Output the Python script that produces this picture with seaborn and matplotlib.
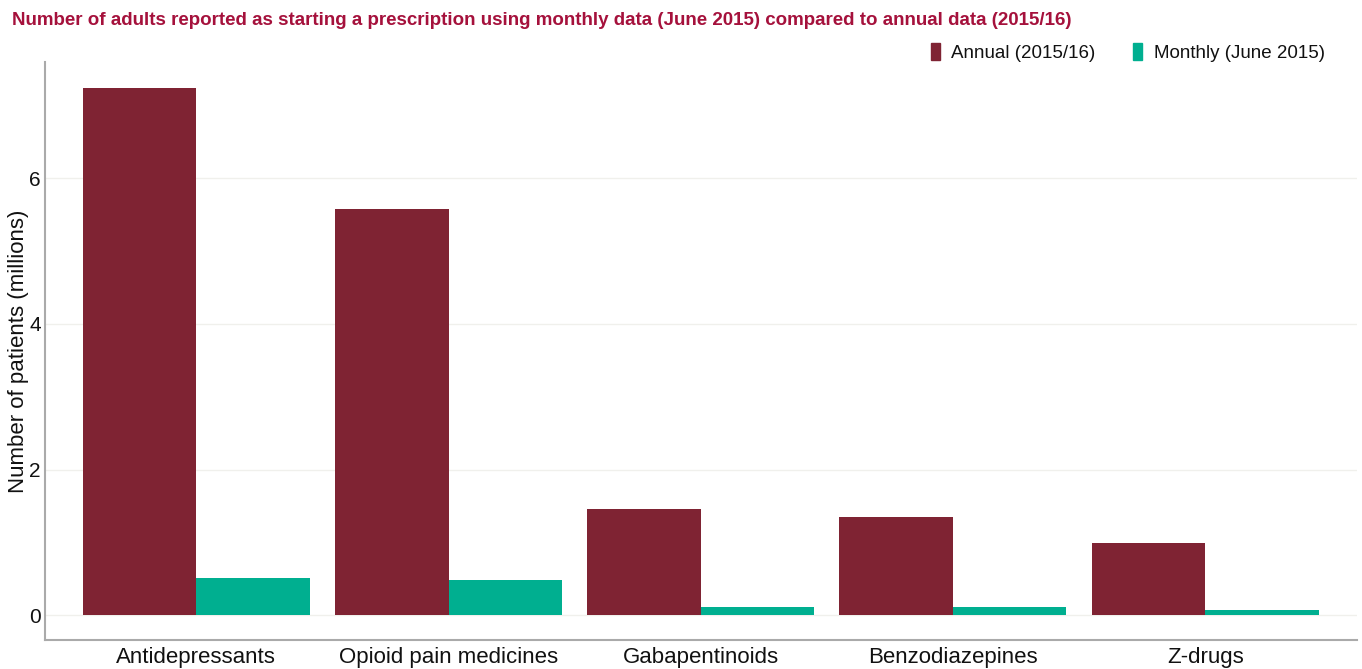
import pandas as pd
import matplotlib.pyplot as plt
from matplotlib.patches import Patch
import seaborn as sb

categories = ["Antidepressants", "Opioid pain medicines", "Gabapentinoids",
              "Benzodiazepines", "Z-drugs"]
annual = [7.24, 5.58, 1.46, 1.35, 0.99]
monthly = [0.51, 0.49, 0.11, 0.12, 0.08]
series_names = ["Annual (2015/16)", "Monthly (June 2015)"]
colours = ["#7F2333", "#00AF90"]

df = pd.DataFrame({
    "drug": categories * 2,
    "patients": annual + monthly,
    "series": [series_names[0]] * len(categories) + [series_names[1]] * len(categories),
})

sb.set_style("white")
plt.rcParams['font.family'] = ['Liberation Sans', 'DejaVu Sans']
plt.rcParams['text.color'] = "#111111"
plt.rcParams['xtick.color'] = "#111111"
plt.rcParams['ytick.color'] = "#111111"
plt.rcParams['axes.labelcolor'] = "#111111"

fig = plt.figure(figsize=(13.62, 6.69), dpi=100)
ax = fig.add_axes([0.033, 0.043, 0.963, 0.865])

sb.barplot(data=df, x="drug", y="patients", hue="series", palette=colours,
           width=0.9, saturation=1, linewidth=0, ax=ax, legend=False)

ax.set_xlim(-0.6, 4.6)
ax.set_ylim(-0.34, 7.6)
ax.set_yticks([0, 2, 4, 6])
ax.yaxis.grid(True, color="#f0f0ec", lw=1)
ax.set_axisbelow(True)
ax.tick_params(axis="x", labelsize=16, length=0, pad=5)
ax.tick_params(axis="y", labelsize=15, length=0, pad=3)
ax.set_xlabel("")
ax.set_ylabel("Number of patients (millions)", fontsize=16)
ax.yaxis.set_label_coords(-0.0125, 0.5)
for s in ["top", "right"]:
    ax.spines[s].set_visible(False)
for s in ["left", "bottom"]:
    ax.spines[s].set_color("#aaaaaa")
    ax.spines[s].set_linewidth(1.5)

fig.text(0.009, 0.97, "Number of adults reported as starting a prescription using monthly "
         "data (June 2015) compared to annual data (2015/16)",
         color="#A5113C", fontsize=13.5, fontweight="bold", va="center")

handles = [Patch(color=c, label=n) for c, n in zip(colours, series_names)]
fig.legend(handles=handles, loc="center right", bbox_to_anchor=(0.985, 0.922), ncol=2,
           frameon=False, fontsize=13.5, handlelength=0.5, handleheight=1.0,
           handletextpad=0.6, columnspacing=2.0)

fig.savefig("out.png", dpi=100)
